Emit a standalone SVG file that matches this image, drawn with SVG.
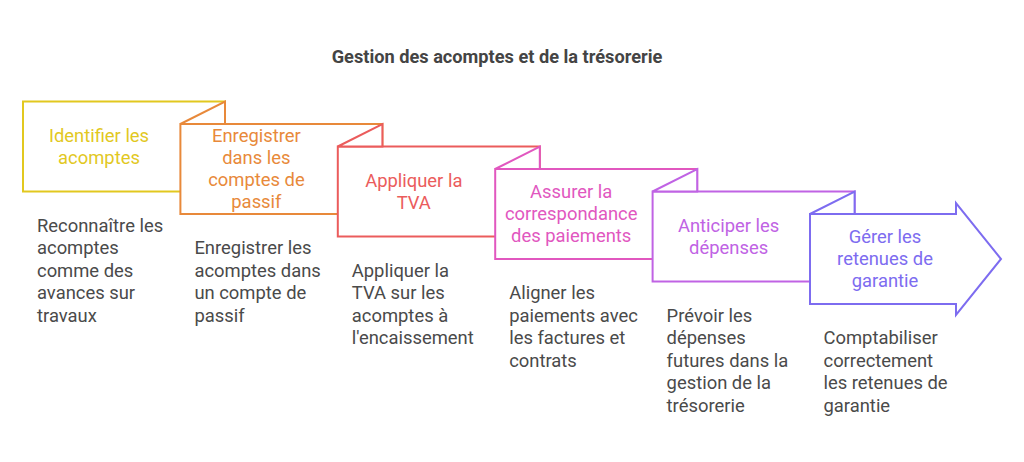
<svg xmlns="http://www.w3.org/2000/svg" width="1024" height="462" viewBox="0 0 1024 462">
<style>
text{font-family:Roboto,"Liberation Sans",sans-serif;}
.t{font-size:18.2px;font-weight:bold;fill:#444444;text-anchor:middle;}
.l{font-size:18.4px;text-anchor:middle;}
.d{font-size:18.4px;fill:#4a4a4a;}
.s{fill:#ffffff;stroke-width:2;stroke-linejoin:miter;}
</style>
<rect width="1024" height="462" fill="#ffffff"/>
<text class="t" x="497" y="63">Gestion des acomptes et de la trésorerie</text>
<g id="connectors"></g>
<g id="n1">
<rect class="s" x="23" y="101.5" width="202" height="90" stroke="#e2c81f"/>
<text class="l" fill="#e2c81f" x="99" y="141.7">Identifier les</text>
<text class="l" fill="#e2c81f" x="99" y="164">acomptes</text>
<text class="d" x="37" y="231.7">Reconnaître les</text>
<text class="d" x="37" y="254.2">acomptes</text>
<text class="d" x="37" y="276.7">comme des</text>
<text class="d" x="37" y="299.2">avances sur</text>
<text class="d" x="37" y="321.7">travaux</text>
</g>
<g id="n2">
<rect class="s" x="180.4" y="124" width="202" height="90" stroke="#e8893a"/>
<polygon class="s" points="180.4,124 225,101.5 225,124" stroke="#e8893a"/>
<text class="l" fill="#e8893a" x="256.4" y="142.3">Enregistrer</text>
<text class="l" fill="#e8893a" x="256.4" y="164.3">dans les</text>
<text class="l" fill="#e8893a" x="256.4" y="186.3">comptes de</text>
<text class="l" fill="#e8893a" x="256.4" y="208.3">passif</text>
<text class="d" x="194.4" y="254.2">Enregistrer les</text>
<text class="d" x="194.4" y="276.7">acomptes dans</text>
<text class="d" x="194.4" y="299.2">un compte de</text>
<text class="d" x="194.4" y="321.7">passif</text>
</g>
<g id="n3">
<rect class="s" x="337.8" y="146.5" width="202" height="90" stroke="#eb5c5c"/>
<polygon class="s" points="337.8,146.5 382.4,124 382.4,146.5" stroke="#eb5c5c"/>
<text class="l" fill="#eb5c5c" x="413.8" y="186.7">Appliquer la</text>
<text class="l" fill="#eb5c5c" x="413.8" y="209">TVA</text>
<text class="d" x="351.8" y="276.7">Appliquer la</text>
<text class="d" x="351.8" y="299.2">TVA sur les</text>
<text class="d" x="351.8" y="321.7">acomptes à</text>
<text class="d" x="351.8" y="344.2">l'encaissement</text>
</g>
<g id="n4">
<rect class="s" x="495.2" y="169" width="202" height="90" stroke="#e157bf"/>
<polygon class="s" points="495.2,169 539.8,146.5 539.8,169" stroke="#e157bf"/>
<text class="l" fill="#e157bf" x="571.2" y="198.3">Assurer la</text>
<text class="l" fill="#e157bf" x="571.2" y="220.3">correspondance</text>
<text class="l" fill="#e157bf" x="571.2" y="242.3">des paiements</text>
<text class="d" x="509.2" y="299.2">Aligner les</text>
<text class="d" x="509.2" y="321.7">paiements avec</text>
<text class="d" x="509.2" y="344.2">les factures et</text>
<text class="d" x="509.2" y="366.7">contrats</text>
</g>
<g id="n5">
<rect class="s" x="652.6" y="191.5" width="202" height="90" stroke="#c063e4"/>
<polygon class="s" points="652.6,191.5 697.2,169 697.2,191.5" stroke="#c063e4"/>
<text class="l" fill="#c063e4" x="728.6" y="231.7">Anticiper les</text>
<text class="l" fill="#c063e4" x="728.6" y="253.7">dépenses</text>
<text class="d" x="666.6" y="321.7">Prévoir les</text>
<text class="d" x="666.6" y="344.2">dépenses</text>
<text class="d" x="666.6" y="366.7">futures dans la</text>
<text class="d" x="666.6" y="389.2">gestion de la</text>
<text class="d" x="666.6" y="411.7">trésorerie</text>
</g>
<g id="n6">
<polygon class="s" points="810,214 956,214 956,203 1001,259 956,315 956,304 810,304" stroke="#7d6cf0"/>
<polygon class="s" points="810,214 854.6,191.5 854.6,214" stroke="#7d6cf0"/>
<text class="l" fill="#7d6cf0" x="885" y="242.7">Gérer les</text>
<text class="l" fill="#7d6cf0" x="885" y="264.7">retenues de</text>
<text class="l" fill="#7d6cf0" x="885" y="286.7">garantie</text>
<text class="d" x="823.5" y="344.2">Comptabiliser</text>
<text class="d" x="823.5" y="366.7">correctement</text>
<text class="d" x="823.5" y="389.2">les retenues de</text>
<text class="d" x="823.5" y="411.7">garantie</text>
</g>
</svg>
